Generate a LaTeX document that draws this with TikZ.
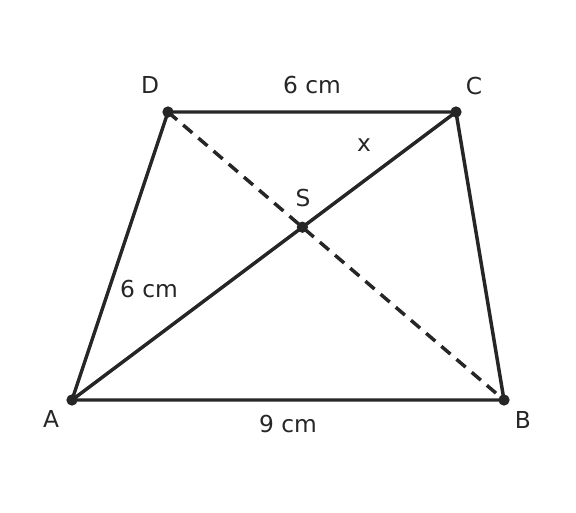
\documentclass[tikz,border=0pt]{standalone}
\usepackage{fontspec}
\setmainfont{DejaVu Sans}
\usepackage{xcolor}
\definecolor{trapink}{RGB}{38,38,38}
\tikzset{
  edge/.style={trapink, line width=2.6pt},
  diag/.style={trapink, line width=2.6pt, dash pattern=on 9pt off 6pt},
  vertex/.style={circle, fill=trapink, inner sep=0pt, minimum size=8.5pt},
  lbl/.style={text=trapink, font=\fontsize{17.5}{21}\selectfont, inner sep=0pt}
}
\begin{document}
\begin{tikzpicture}[x=0.75pt, y=-0.75pt]
  \useasboundingbox (0,0) rectangle (576,512);
  % vertices of the trapezoid
  \node[vertex] (A) at (72,400) {};
  \node[vertex] (B) at (504,400) {};
  \node[vertex] (C) at (456,112) {};
  \node[vertex] (D) at (168,112) {};
  % sides
  \draw[edge] (A.center) -- (B.center) -- (C.center) -- (D.center) -- cycle;
  % diagonals
  \draw[diag] (D.center) -- (B.center);
  \draw[edge] (A.center) -- (C.center);
  \node[vertex] (S) at (302.4,227.2) {};
  % labels
  \node[lbl] (lA) at (51,419) {A};
  \node[lbl] (lB) at (523,420) {B};
  \node[lbl] (lC) at (474,86) {C};
  \node[lbl] (lD) at (150,85) {D};
  \node[lbl] (lS) at (303,198) {S};
  \node[lbl] (lx) at (364,145) {x};
  \node[lbl] (dc) at (312,85) {6 cm};
  \node[lbl] (ad) at (149,289) {6 cm};
  \node[lbl] (ab) at (288,424) {9 cm};
\end{tikzpicture}
\end{document}
